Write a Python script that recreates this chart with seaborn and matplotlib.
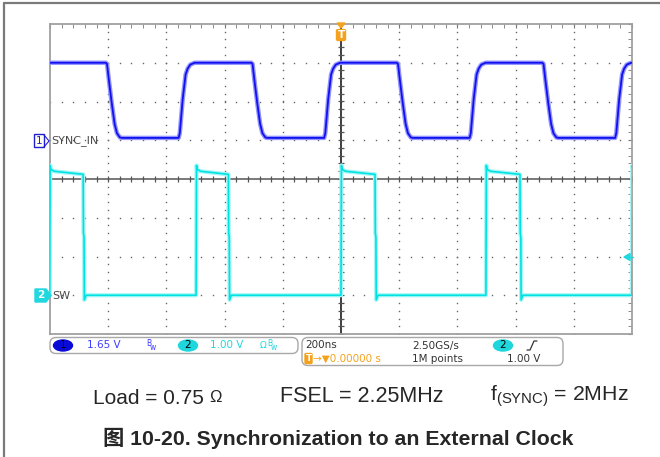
import matplotlib
matplotlib.use("Agg")
import matplotlib.pyplot as plt
from matplotlib.patches import FancyBboxPatch, Ellipse, Polygon, Rectangle
from matplotlib.lines import Line2D
from matplotlib.transforms import Affine2D
import numpy as np
import pandas as pd
import seaborn as sns

TIME_SPAN = [-1000, 1000]      # ns, 200 ns/div, trigger at centre
CH1_SCALE = 1.65               # V/div
CH1_GROUND = 1.0               # div above centre
CH2_SCALE = 1.00
CH2_GROUND = -3.0

# SYNC_IN (ch1): edge times in ns, edge shapes as (dt ns, volts)
sync_fall_t = [-808, -308, 192, 692]
sync_rise_t = [-558, -58, 442, 942]
sync_fall_dt = [0, 4, 10, 20, 30, 38, 48, 55]
sync_fall_v = [3.3, 3.25, 2.6, 1.6, 0.7, 0.3, 0.12, 0.1]
sync_rise_dt = [0, 4, 14, 24, 31, 40, 55]
sync_rise_v = [0.1, 0.3, 1.75, 2.8, 3.05, 3.22, 3.3]

# SW (ch2)
sw_rise_t = [-1001, -498, 0, 498, 999.5]
sw_fall_t = [-886, -387, 117, 615]
sw_rise_dt = [0, 1.5, 4, 15]
sw_rise_v = [0.0, 3.35, 3.25, 3.2]
sw_fall_dt = [0, 1, 3, 4, 10]
sw_fall_v = [3.12, 1.6, 1.5, -0.12, 0.0]


def trace_points(rise_t, fall_t, rise_dt, rise_v, fall_dt, fall_v, t0, v0, t_end):
    events = sorted([(t, rise_dt, rise_v) for t in rise_t] +
                    [(t, fall_dt, fall_v) for t in fall_t])
    ts, vs = [t0], [v0]
    for te, dts, vals in events:
        ts += [te + d for d in dts]
        vs += list(vals)
    ts.append(t_end)
    vs.append(vs[-1])
    return np.array(ts), np.array(vs)


t1, v1 = trace_points(sync_rise_t, sync_fall_t, sync_rise_dt, sync_rise_v,
                      sync_fall_dt, sync_fall_v, -1000, 3.3, 1000)
t2, v2 = trace_points(sw_rise_t, sw_fall_t, sw_rise_dt, sw_rise_v,
                      sw_fall_dt, sw_fall_v, -1002, 0.0, 1012)
df1 = pd.DataFrame({"t": t1, "div": v1 / CH1_SCALE + CH1_GROUND})
df2 = pd.DataFrame({"t": t2, "div": v2 / CH2_SCALE + CH2_GROUND})

sns.set_style("white")
plt.rcParams["mathtext.fontset"] = "custom"
plt.rcParams["mathtext.rm"] = "Liberation Sans"

fig = plt.figure(figsize=(6.6, 4.57), dpi=100)
# pixel coordinates, origin top-left
PX = Affine2D().scale(0.01, -0.01).translate(0, 4.57) + fig.dpi_scale_trans

ax = fig.add_axes([50 / 660, 1 - 334 / 457, 582 / 660, 310 / 457])
ax.set_xlim(TIME_SPAN)
ax.set_ylim(-4, 4)

# graticule
gdot = "#666666"
for gx in [-800, -600, -400, -200, 200, 400, 600, 800]:
    yy = np.arange(-4, 4.01, 0.2)
    ax.plot(np.full_like(yy, gx), yy, ls="none", marker="s", ms=1.0, mew=0, color=gdot, zorder=1)
for gy in [-3, -2, -1, 1, 2, 3]:
    xx = np.arange(-1000, 1001, 40)
    ax.plot(xx, np.full_like(xx, gy, dtype=float), ls="none", marker="s", ms=1.0, mew=0,
            color=gdot, zorder=1)
ax.axhline(0, color="#6e6e6e", lw=1.3, zorder=2)
ax.axvline(0, color="#1e1e1e", lw=1.2, zorder=2)
xx = np.arange(-1000, 1001, 40)
ax.plot(xx, np.zeros_like(xx), ls="none", marker="|", ms=5, mew=0.9, color="#555555", zorder=2)
yy = np.arange(-4, 4.01, 0.2)
ax.plot(np.zeros_like(yy), yy, ls="none", marker="_", ms=5, mew=0.9, color="#555555", zorder=2)

ax.set_xticks(np.arange(-1000, 1001, 200))
ax.set_xticks(np.arange(-1000, 1001, 40), minor=True)
ax.set_yticks(np.arange(-4, 4.01, 1))
ax.set_yticks(np.arange(-4, 4.01, 0.2), minor=True)
ax.tick_params(which="both", direction="in", top=True, right=True, length=3,
               color="#777777", labelbottom=False, labelleft=False)
for sp in ax.spines.values():
    sp.set_color("#a0a0a0")
    sp.set_linewidth(1.3)

# traces (halo for the noisy look)
sns.lineplot(data=df2, x="t", y="div", sort=False, estimator=None, color="#a6f6f6", lw=3.0, ax=ax, zorder=3)
sns.lineplot(data=df2, x="t", y="div", sort=False, estimator=None, color="#00e2e2", lw=1.2, ax=ax, zorder=4)
sns.lineplot(data=df1, x="t", y="div", sort=False, estimator=None, color="#9494ff", lw=3.2, ax=ax, zorder=5)
sns.lineplot(data=df1, x="t", y="div", sort=False, estimator=None, color="#1010f0", lw=1.3, ax=ax, zorder=6)
ax.set_xlabel("")
ax.set_ylabel("")

# page frame
fig.add_artist(Line2D([4, 4], [3, 457], transform=PX, color="#7a7a7a", lw=1.6))
fig.add_artist(Line2D([4, 660], [3, 3], transform=PX, color="#7a7a7a", lw=1.6))

mono = "DejaVu Sans"
# channel 1 marker
fig.add_artist(Rectangle((34, 134), 10, 13, transform=PX, fc="#fffff2", ec="#2020d0", lw=1))
fig.add_artist(Line2D([44, 49, 44], [135, 141, 147], transform=PX, color="#2020d0", lw=0.8))
fig.text(39, 141, "1", transform=PX, ha="center", va="center", color="#2020d0", fontsize=7.5, family=mono)
fig.text(51, 141, "SYNC_IN", transform=PX, ha="left", va="center", color="#4a4a4a", fontsize=8, family=mono)
# channel 2 marker
fig.add_artist(Polygon([[35, 289], [46, 289], [51, 295.5], [46, 302], [35, 302]], transform=PX,
                       fc="#20d8e0", ec="#20d8e0"))
fig.text(41, 295.5, "2", transform=PX, ha="center", va="center", color="white", fontsize=7.5,
         family=mono, weight="bold")
fig.text(52, 296, "SW", transform=PX, ha="left", va="center", color="#4a4a4a", fontsize=8, family=mono)

# trigger markers
orange = "#f4a21e"
fig.add_artist(Polygon([[337, 23], [345, 23], [341, 28]], transform=PX, fc=orange, ec=orange))
fig.add_artist(FancyBboxPatch((336.5, 29.5), 9, 11, transform=PX, boxstyle="round,pad=0,rounding_size=1.5",
                              fc=orange, ec=orange))
fig.text(341, 35, "T", transform=PX, ha="center", va="center", color="white", fontsize=7.5,
         family=mono, weight="bold")
fig.add_artist(Polygon([[624, 257], [630, 253.5], [630, 260.5]], transform=PX, fc="#20d8e0", ec="#20d8e0"))
fig.add_artist(Line2D([629, 633], [257, 257], transform=PX, color="#20d8e0", lw=1))

# status bar
box_ec = "#a8a8a8"
fig.add_artist(FancyBboxPatch((50, 337.5), 248, 16, transform=PX, boxstyle="round,pad=0,rounding_size=6",
                              fc="white", ec=box_ec, lw=1))
fig.add_artist(FancyBboxPatch((302, 337.5), 261, 28, transform=PX, boxstyle="round,pad=0,rounding_size=6",
                              fc="white", ec=box_ec, lw=1))
fs = 7.5
fig.add_artist(Ellipse((63, 345.5), 19, 11, transform=PX, fc="#0a0ad8", ec="#0a0ad8"))
fig.text(63, 345.5, "1", transform=PX, ha="center", va="center", color="black", fontsize=fs, family=mono)
fig.text(87, 345.5, "1.65 V", transform=PX, ha="left", va="center", color="#3c3cff", fontsize=fs, family=mono)
fig.text(146, 344, "B", transform=PX, ha="left", va="center", color="#3c3cff", fontsize=5.5, family=mono)
fig.text(150, 347, "w", transform=PX, ha="left", va="center", color="#3c3cff", fontsize=5.5, family=mono)
fig.add_artist(Ellipse((188, 345.5), 19, 11, transform=PX, fc="#1ed6dc", ec="#1ed6dc"))
fig.text(188, 345.5, "2", transform=PX, ha="center", va="center", color="black", fontsize=fs, family=mono)
fig.text(210, 345.5, "1.00 V", transform=PX, ha="left", va="center", color="#22d8dc", fontsize=fs, family=mono)
fig.text(260, 345.5, "Ω", transform=PX, ha="left", va="center", color="#22d8dc", fontsize=6.5, family=mono)
fig.text(267, 344, "B", transform=PX, ha="left", va="center", color="#22d8dc", fontsize=5.5, family=mono)
fig.text(271, 347, "w", transform=PX, ha="left", va="center", color="#22d8dc", fontsize=5.5, family=mono)

fig.text(305, 345.5, "200ns", transform=PX, ha="left", va="center", color="#333333", fontsize=fs, family=mono)
fig.text(412, 345.5, "2.50GS/s", transform=PX, ha="left", va="center", color="#333333", fontsize=fs, family=mono)
fig.add_artist(Ellipse((503, 345.5), 19, 11, transform=PX, fc="#1ed6dc", ec="#1ed6dc"))
fig.text(503, 345.5, "2", transform=PX, ha="center", va="center", color="black", fontsize=fs, family=mono)
fig.add_artist(Line2D([527, 530, 534, 537], [350, 350, 341, 341], transform=PX, color="#333333", lw=0.9))

fig.add_artist(FancyBboxPatch((305, 353.5), 7, 10, transform=PX, boxstyle="round,pad=0,rounding_size=1",
                              fc=orange, ec=orange))
fig.text(308.5, 358.5, "T", transform=PX, ha="center", va="center", color="white", fontsize=6.5,
         family=mono, weight="bold")
fig.text(313, 359, "→▼0.00000 s", transform=PX, ha="left", va="center", color=orange, fontsize=fs, family=mono)
fig.text(412, 359, "1M points", transform=PX, ha="left", va="center", color="#333333", fontsize=fs, family=mono)
fig.text(507, 359, "1.00 V", transform=PX, ha="left", va="center", color="#333333", fontsize=fs, family=mono)

# caption
sans = ["Liberation Sans", "Noto Sans CJK SC"]
fig.text(93, 398, "Load = 0.75", transform=PX, ha="left", va="center", fontsize=15, family=sans)
fig.text(209, 397, "Ω", transform=PX, ha="left", va="center", fontsize=12, family=sans)
fig.text(280, 396, "FSEL = 2.25MHz", transform=PX, ha="left", va="center", fontsize=15.5, family=sans)
fig.text(490, 396, r"f$_{\mathrm{(SYNC)}}$ = 2MHz", transform=PX, ha="left", va="center", fontsize=15.3,
         family=sans)
fig.text(103, 438, "图 10-20. Synchronization to an External Clock", transform=PX, ha="left", va="center",
         fontsize=15.3, family=sans, weight="bold")

fig.savefig("out.png", dpi=100)
plt.close(fig)
